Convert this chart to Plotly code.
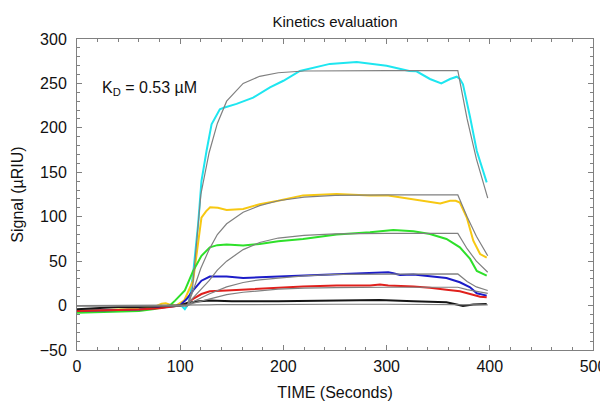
import plotly.graph_objects as go

# ---------------- data ----------------
cyan_t = [0, 20, 40, 60, 80, 90, 96, 101, 104.5, 108, 110, 112.5, 117.4, 120.6, 125.5, 130.4, 138.4, 143,
          154.6, 170.7, 187, 200, 216, 245, 271, 300, 322, 329, 342, 353, 361.5, 368, 371, 374, 380.9, 387.4, 397]
cyan_y = [-6, -5.5, -5, -4, -2, -1, 0, 0, -4, 2, 15, 35.6, 92, 140, 174, 204, 221, 223,
          227, 234, 245.6, 253, 264, 272, 274, 270, 264, 263.6, 255, 250, 255, 257.6, 255, 249, 212, 174, 138.7]

yellow_t = [0, 20, 40, 60, 75, 82, 86, 90, 96, 104, 112.5, 117, 120.6, 125, 129, 136.5, 145, 161, 177, 195,
            219, 251.6, 284, 301.6, 326, 342, 352, 361.5, 367, 371, 377.7, 384, 390.6, 397]
yellow_y = [-6, -5, -4.5, -3.5, -1.5, 2, 2.6, 1, 0, 6, 28, 66, 99, 106, 110.6, 110, 107.6, 108.7, 114, 118,
            124, 125.6, 124, 124, 120, 117, 115, 118, 118, 116, 99, 73, 58, 54]

green_t = [0, 20, 40, 60, 75, 85, 90, 95, 100, 104.5, 112.5, 120.6, 128.7, 136, 145, 161, 177, 195,
           219, 251.6, 284, 306.5, 326, 342, 358, 371, 380.9, 387.4, 397]
green_y = [-8, -7.5, -6.5, -6, -4, -1, 0, 5.6, 11, 17, 39, 56, 65.6, 68, 68.6, 67.5, 69.4, 72.3,
           75, 80, 82.5, 85, 83.6, 80.6, 75, 65.6, 52.5, 39, 33.7]

blue_t = [0, 20, 40, 60, 80, 90, 99.6, 106, 112.5, 120.6, 128.7, 145, 161, 177, 195, 219, 251.6, 284,
          301.6, 306.5, 313, 326, 342, 358, 371, 380.9, 387.4, 397]
blue_y = [-6, -5.5, -5, -4.5, -2.5, -1, 0, 7, 17, 28, 32.6, 32.6, 31, 31.9, 32.6, 33.7, 35.6, 36.4,
          37.5, 36.4, 34.5, 34.9, 32.6, 31.1, 26.2, 20.6, 13.9, 11.2]

red_t = [0, 20, 40, 60, 80, 90, 100, 106, 112.5, 120.6, 128.7, 145, 161, 177, 195, 219, 251.6, 284,
         293.6, 301.6, 326, 342, 358, 371, 380.9, 390.6, 397]
red_y = [-6, -5.5, -5, -4.5, -3, -1.5, 0, 2, 7.5, 13, 16, 17, 18, 18.7, 20, 21.4, 22.5, 22.5,
         23.6, 22.5, 21.4, 20, 17.7, 16, 13, 10, 9.4]

black_t = [0, 20, 40, 60, 80, 90, 100, 106, 115.8, 128.7, 150, 195, 250, 293, 326, 358, 368, 374, 384, 397]
black_y = [-4, -3, -1.5, -1.5, -1, -0.5, 0, 2.6, 4.5, 5.6, 5, 4.8, 5.8, 6.4, 4.8, 3.7, 1.1, -0.4, 1.1, 1.9]

# fitted curves (grey)
fit_t = [0, 107, 112, 116, 120, 128, 136, 145, 161, 177, 195, 220, 250, 300, 369, 378, 387, 398]
fit_cyan = [0, 0, 20, 75, 125, 172, 205, 230, 250, 258, 262, 264, 264.5, 264.5, 264.5, 210, 165, 121]
fit_yellow = [0, 0, 15, 28, 42, 63, 80, 92, 105, 112.5, 118, 122, 124, 124.5, 124.5, 100, 78, 56]
fit_green = [0, 0, 8, 13, 18, 28, 40, 50, 63, 71, 76, 79, 80.6, 81.3, 81.3, 64, 50, 37.5]
fit_blue = [0, 0, 4, 6, 8.5, 13, 17, 21, 26, 29, 31, 33.5, 35, 35.6, 35.6, 27, 21, 17]
fit_red = [0, 0, 2.5, 3.8, 5, 7.5, 10, 12.4, 15, 17, 18.4, 19.6, 20.3, 20.6, 20.6, 18, 16, 13.8]
fit_black = [0, 0, 0.3, 0.5, 0.6, 0.8, 1.0, 1.1, 1.3, 1.4, 1.5, 1.5, 1.5, 1.5, 1.5, 1.2, 1.0, 0.8]

series = [
    ("cyan", cyan_t, cyan_y, "#1ee6f0", fit_cyan),
    ("yellow", yellow_t, yellow_y, "#f7c812", fit_yellow),
    ("green", green_t, green_y, "#2ee02a", fit_green),
    ("blue", blue_t, blue_y, "#1c1cc8", fit_blue),
    ("red", red_t, red_y, "#e0201c", fit_red),
    ("black", black_t, black_y, "#151515", fit_black),
]

FONT = "Liberation Sans, Arial, sans-serif"

fig = go.Figure()
for name, t, y, col, fit in series:
    fig.add_trace(go.Scatter(x=t, y=y, mode="lines", name=name,
                             line=dict(color=col, width=2), showlegend=False))
for name, t, y, col, fit in series:
    fig.add_trace(go.Scatter(x=fit_t, y=fit, mode="lines", name=name + " fit",
                             line=dict(color="#808080", width=1.2), showlegend=False))

fig.add_annotation(x=22, y=244, xref="x", yref="y", xanchor="left", yanchor="middle",
                   text="K<sub>D</sub> = 0.53 µM", showarrow=False,
                   font=dict(family=FONT, size=16, color="#111"))

axis_common = dict(showgrid=False, zeroline=False, showline=True, linecolor="#808080", linewidth=1,
                   mirror="ticks", ticks="inside", ticklen=5, tickcolor="#808080", automargin=False,
                   tickfont=dict(family=FONT, size=16, color="#111"))

# the page body adds an 8 px offset, so the figure is 600x395 placed at (8, 8)
fig.update_layout(
    width=600, height=395,
    margin=dict(l=69, r=15, t=31, b=53),
    paper_bgcolor="white", plot_bgcolor="white",
    title=dict(text="Kinetics evaluation", x=0.545, xanchor="center", y=0.965, yanchor="middle",
               font=dict(family=FONT, size=15, color="#111")),
    xaxis=dict(range=[0, 500], tickmode="array", tickvals=[0, 100, 200, 300, 400, 500],
               minor=dict(dtick=20, ticks="inside", ticklen=3, tickcolor="#808080"),
               ticklabelstandoff=2,
               title=dict(text="TIME (Seconds)", font=dict(family=FONT, size=16, color="#111"), standoff=12),
               **axis_common),
    yaxis=dict(range=[-50, 300], tickmode="array", tickvals=[-50, 0, 50, 100, 150, 200, 250, 300],
               minor=dict(dtick=10, ticks="inside", ticklen=3, tickcolor="#808080"),
               ticklabelstandoff=6,
               title=dict(text="Signal (µRIU)", font=dict(family=FONT, size=16, color="#111"), standoff=12),
               **axis_common),
)

fig.write_html("out.html")
